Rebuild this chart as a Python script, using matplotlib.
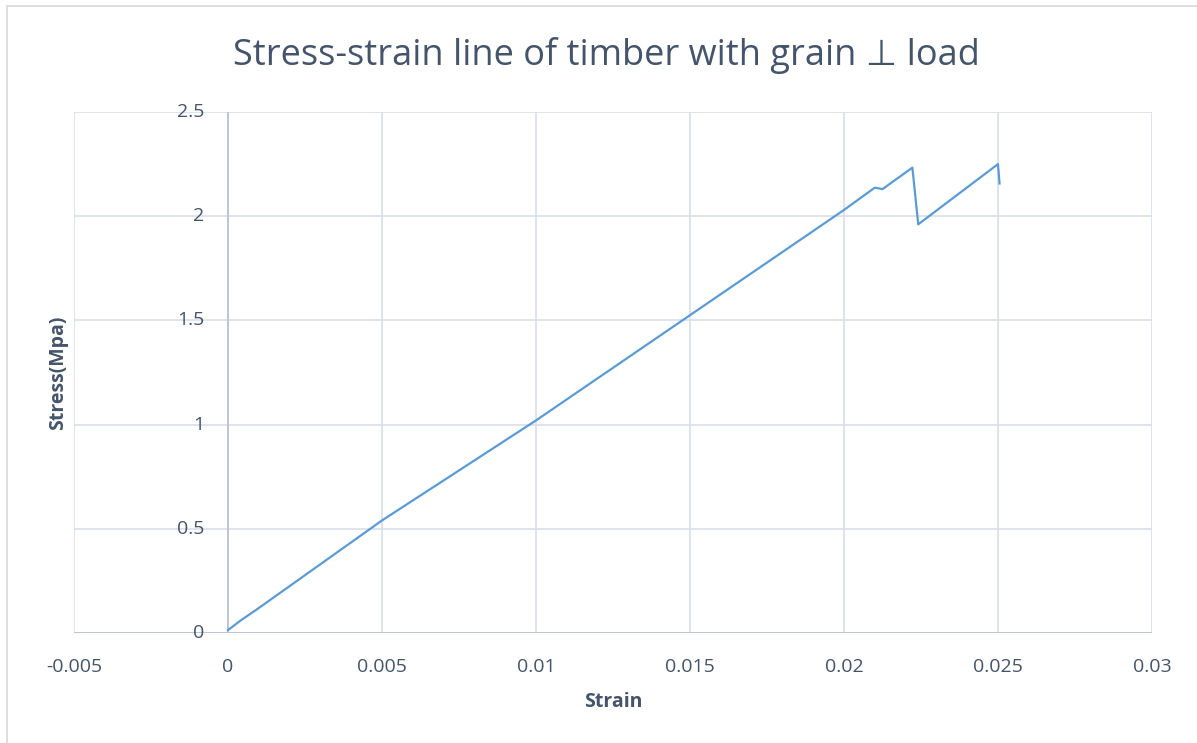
import matplotlib.pyplot as plt
from matplotlib.patches import Rectangle
from matplotlib.transforms import offset_copy

# values
strain = [0, 0.0004, 0.001, 0.002, 0.003, 0.004, 0.005, 0.006, 0.007,
          0.008, 0.009, 0.010, 0.011, 0.012, 0.013, 0.014, 0.015, 0.016,
          0.017, 0.018, 0.019, 0.020, 0.0210, 0.02125, 0.02222, 0.02241,
          0.0250, 0.02505]
stress = [0.014, 0.059, 0.12, 0.225, 0.33, 0.435, 0.54, 0.636, 0.732,
          0.828, 0.924, 1.02, 1.121, 1.222, 1.323, 1.424, 1.525, 1.626,
          1.727, 1.828, 1.929, 2.03, 2.137, 2.13, 2.233, 1.961,
          2.25, 2.157]

xticks = [-0.005, 0, 0.005, 0.01, 0.015, 0.02, 0.025, 0.03]
xtick_labels = ['-0.005', '0', '0.005', '0.01', '0.015', '0.02', '0.025', '0.03']
yticks = [0, 0.5, 1, 1.5, 2, 2.5]
ytick_labels = ['0', '0.5', '1', '1.5', '2', '2.5']

plt.rcParams['font.family'] = ['Open Sans', 'DejaVu Sans']
text_col = '#44546A'
grid_col = '#D9DEE8'
axis_col = '#BCC6D6'

fig = plt.figure(figsize=(11.97, 7.43), dpi=100)
fig.patches.append(Rectangle((7/1197, -0.1), 1.2, 1.1 - 6/743,
                             transform=fig.transFigure, fill=False,
                             edgecolor='#D9D9D9', lw=1.2))
ax = fig.add_axes([74/1197, 110/743, 1078/1197, 521/743])

ax.plot(strain, stress, color='#5B9BD5', lw=1.6, zorder=3)

ax.set_xlim(-0.005, 0.03)
ax.set_ylim(0, 2.5)
ax.set_xticks(xticks)
ax.set_xticklabels(xtick_labels)
ax.set_yticks(yticks)
ax.set_yticklabels([])
ax.tick_params(length=0, labelsize=14, colors=text_col)
ax.tick_params(axis='x', pad=18)

# y tick labels sit next to the vertical axis at x = 0, as in Excel
ytrans = offset_copy(ax.transData, fig=fig, x=-24, y=0, units='dots')
for v, lab in zip(yticks, ytick_labels):
    ax.text(0, v, lab, transform=ytrans, ha='right', va='center',
            fontsize=14, color=text_col, clip_on=False)

ax.grid(True, color=grid_col, lw=1.2)
ax.set_axisbelow(True)
for s in ax.spines.values():
    s.set_visible(False)
ax.axvline(0, color=axis_col, lw=1.4, zorder=2)
ax.axhline(0, color=axis_col, lw=1.4, zorder=2)

fig.text(613/1197, 1 - 702/743, 'Strain', ha='center', va='center',
         fontsize=14, fontweight='bold', color=text_col)
fig.text(58/1197, 1 - 373/743, 'Stress(Mpa)', ha='center', va='center',
         rotation=90, fontsize=14, fontweight='bold', color=text_col)
fig.text(606/1197, 1 - 55/743, 'Stress-strain line of timber with grain \u22a5 load',
         ha='center', va='center', fontsize=26, color=text_col)

fig.savefig('out.png', dpi=100, facecolor='white')
